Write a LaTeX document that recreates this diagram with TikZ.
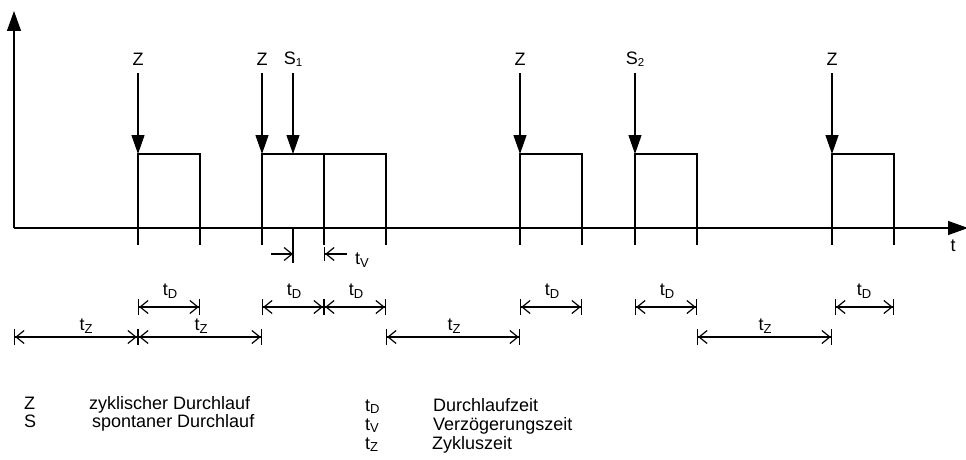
\documentclass[tikz,border=0pt]{standalone}
\usepackage{fontspec}
\setmainfont{Liberation Sans}
\usetikzlibrary{arrows.meta}
\newcommand\lsub[1]{\raisebox{-2.5pt}{\fontsize{13}{14}\selectfont #1}}
\newcommand\nsub[1]{\raisebox{-2.5pt}{\fontsize{11.5}{12}\selectfont #1}}
\tikzset{
  txt/.style={font=\fontsize{18}{20}\selectfont, inner sep=0pt},
  axisline/.style={line width=1.3pt,-{Triangle[length=20pt,width=14pt]}},
  trig/.style={line width=1.2pt,-{Triangle[length=19pt,width=13pt]}},
  pulse/.style={line width=1.1pt},
  dimline/.style={line width=1.2pt,
    {Bar[width=16pt]Straight Barb[length=8pt,width=13pt]}-{Straight Barb[length=8pt,width=13pt]Bar[width=16pt]}},
  dimgapline/.style={line width=1.2pt,
    {Bar[width=16pt,sep=3pt]Straight Barb[length=8pt,width=13pt]}-{Straight Barb[length=8pt,width=13pt]Bar[width=16pt]}},
  tvline/.style={line width=1.2pt,-{Straight Barb[length=8pt,width=13pt]}},
  tvbarline/.style={line width=1.2pt,-{Straight Barb[length=8pt,width=13pt]Bar[width=14pt]}},
}
\begin{document}
\begin{tikzpicture}[x=1pt,y=-1pt]
\useasboundingbox (0,0) rectangle (966,460);
% axes
\coordinate (O) at (14,228);
\coordinate (Ytop) at (14,11);
\coordinate (Xend) at (968,228);
\draw[axisline] (O) -- (Ytop);
\draw[axisline] (O) -- (Xend);
\node[txt] (tlab) at (953,246) {t};

% pulses
\foreach \a/\b [count=\i] in {138/200,262/386,520/582,635/697,832/894}{
  \coordinate (pl\i) at (\a,245);
  \coordinate (plt\i) at (\a,154);
  \coordinate (prt\i) at (\b,154);
  \coordinate (pr\i) at (\b,245);
  \draw[pulse] (pl\i) -- (plt\i) -- (prt\i) -- (pr\i);
}
\coordinate (mid2t) at (324,154);
\coordinate (mid2b) at (324,245);
\draw[pulse] (mid2t) -- (mid2b);
\coordinate (s1a) at (293,228);
\coordinate (s1b) at (293,263);
\draw[pulse] (s1a) -- (s1b);

% trigger arrows
\foreach \x/\l/\n in {138/Z/z1,262/Z/z2,293/S\nsub{1}/s1,520/Z/z3,635/S\nsub{2}/s2,832/Z/z4}{
  \node[txt] (\n) at (\x,59) {\l};
  \coordinate (\n top) at (\x,73);
  \coordinate (\n bot) at (\x,154);
  \draw[trig] (\n top) -- (\n bot);
}

% t_V
\coordinate (tva) at (271,254);
\coordinate (tvb) at (293,254);
\coordinate (tvc) at (347,254);
\coordinate (tvd) at (324,254);
\draw[tvline] (tva) -- (tvb);
\draw[tvbarline] (tvc) -- (tvd);
\node[txt] (tvl) at (362,260) {t\lsub{V}};

% t_D row
\foreach \a/\b/\s [count=\i] in {138/200/dimline,262/324/dimline,324/386/dimline,520/582/dimline,635/697/dimline,832/894/dimgapline}{
  \coordinate (da\i) at (\a,307);
  \coordinate (db\i) at (\b,307);
  \draw[\s] (da\i) -- (db\i);
  \node[txt] (dl\i) at ({(\a+\b)/2+1},291) {t\lsub{D}};
}

% t_Z row
\foreach \a/\b/\c [count=\i] in {14/138/86,138/262/201,386/520/454,697/832/765}{
  \coordinate (za\i) at (\a,337);
  \coordinate (zb\i) at (\b,337);
  \draw[dimline] (za\i) -- (zb\i);
  \node[txt] (zl\i) at (\c,326) {t\lsub{Z}};
}

% legend
\node[txt,anchor=base west] (lgz) at (24,409) {Z};
\node[txt,anchor=base west] (lgzt) at (89,409) {zyklischer Durchlauf};
\node[txt,anchor=base west] (lgs) at (24,427) {S};
\node[txt,anchor=base west] (lgst) at (92,427) {spontaner Durchlauf};
\node[txt,anchor=base west] (lgd) at (365,411) {t\lsub{D}};
\node[txt,anchor=base west] (lgdt) at (433,411) {Durchlaufzeit};
\node[txt,anchor=base west] (lgv) at (365,430) {t\lsub{V}};
\node[txt,anchor=base west] (lgvt) at (433,430) {Verzögerungszeit};
\node[txt,anchor=base west] (lgzz) at (365,449) {t\lsub{Z}};
\node[txt,anchor=base west] (lgzzt) at (432,449) {Zykluszeit};
\end{tikzpicture}
\end{document}
